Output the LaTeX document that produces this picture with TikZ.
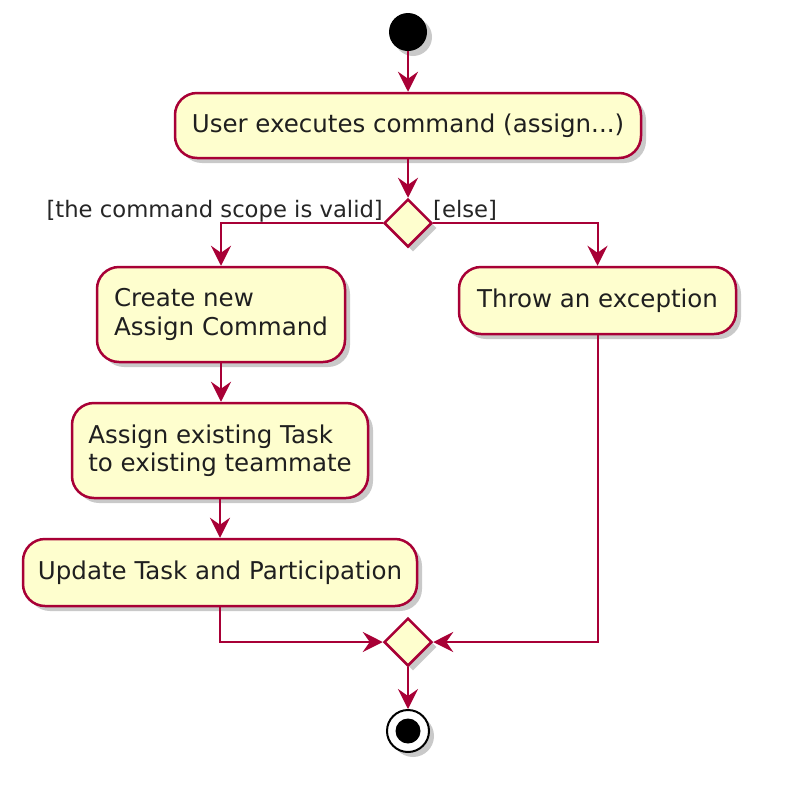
\documentclass[tikz,border=0pt]{standalone}
\usepackage{fontspec}
\setmainfont{DejaVu Sans}
\usetikzlibrary{arrows.meta,shapes.geometric,shadows}
\definecolor{umlfill}{HTML}{FEFECE}
\definecolor{umlline}{HTML}{A80036}
\tikzset{
  shad/.style={drop shadow={shadow xshift=5pt,shadow yshift=-5pt,opacity=0.35,fill=black!60}},
  action/.style={shad,draw=umlline,fill=umlfill,line width=2.5pt,rounded corners=22pt,
    inner sep=0pt,align=left,font=\fontsize{24.5}{28.5}\selectfont,text=black!88},
  decision/.style={shad,diamond,aspect=1,draw=umlline,fill=umlfill,line width=2.5pt,
    minimum width=48pt,minimum height=48pt,inner sep=0pt},
  flow/.style={draw=umlline,line width=2pt,-{Stealth[length=20pt,width=20pt,inset=7pt]}},
  guard/.style={inner sep=0pt,font=\fontsize{22.7}{26}\selectfont,text=black!85}
}
\begin{document}
\begin{tikzpicture}[x=1pt,y=-1pt]
\useasboundingbox (0,0) rectangle (798,812);
\fill[white] (0,0) rectangle (798,812);
\node[shad,circle,fill=black,minimum size=38pt,inner sep=0pt] (start) at (408,32) {};
\node[action,minimum width=466pt,minimum height=65pt] (a1) at (408,125.5) {\raisebox{-2pt}{User executes command (assign...)}};
\node[decision] (d1) at (408,223) {};
\node[action,minimum width=248pt,minimum height=95pt] (a2) at (221,314.5) {Create new\\Assign Command};
\node[action,minimum width=277pt,minimum height=67pt] (a3) at (597.5,300.5) {\raisebox{-2pt}{Throw an exception}};
\node[action,minimum width=296pt,minimum height=95pt] (a4) at (220,450.5) {Assign existing Task\\to existing teammate};
\node[action,minimum width=394pt,minimum height=67pt] (a5) at (220,572.5) {\raisebox{-2pt}{Update Task and Participation}};
\node[decision] (d2) at (408,642) {};
\node[shad,circle,draw=black,fill=white,line width=2pt,minimum size=42pt,inner sep=0pt] (end) at (408,731) {};
\node[circle,fill=black,minimum size=25pt,inner sep=0pt] (endin) at (end.center) {};
\node[guard,anchor=base east] (g1) at (383,217) {[the command scope is valid]};
\node[guard,anchor=base west] (g2) at (433,217) {[else]};
\draw[flow] (start) -- (a1);
\draw[flow] (a1) -- (d1);
\draw[flow] (d1.west) -| (a2.north);
\draw[flow] (d1.east) -| (a3.north);
\draw[flow] (a2.south) -- (a2.south |- a4.north);
\draw[flow] (a4) -- (a5);
\draw[flow] (a5.south) |- (d2.west);
\draw[flow] (a3.south) |- (d2.east);
\draw[flow] (d2) -- (end);
\end{tikzpicture}
\end{document}
